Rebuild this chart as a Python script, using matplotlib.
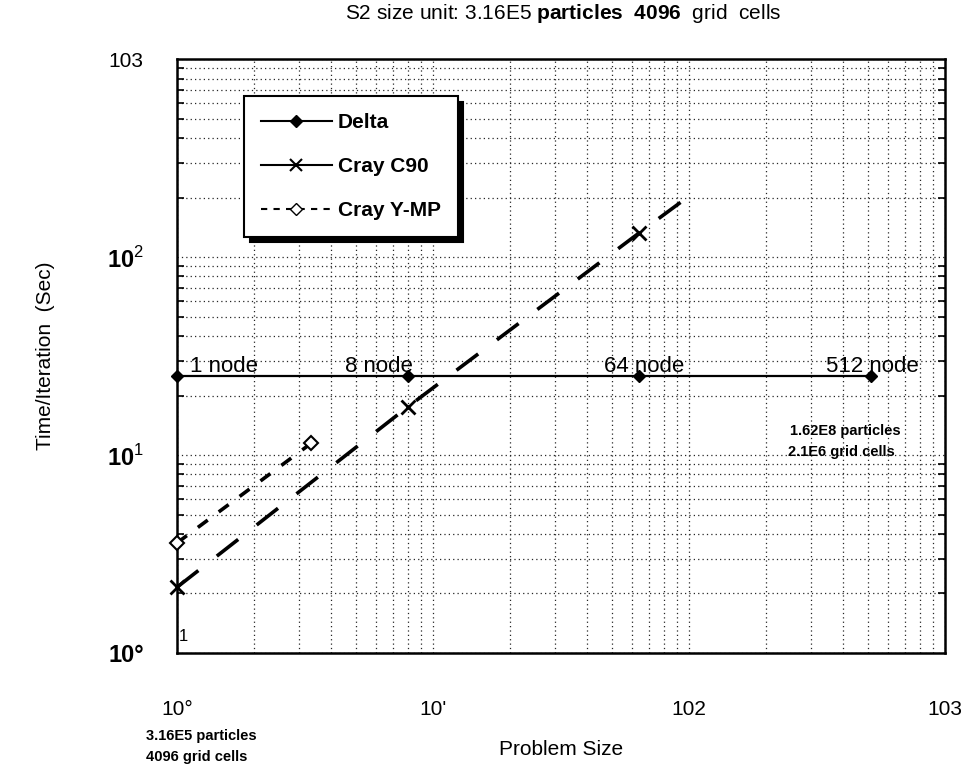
import matplotlib
matplotlib.use("Agg")
import matplotlib.pyplot as plt
from matplotlib.lines import Line2D

plt.rcParams['font.family'] = ['Liberation Sans', 'DejaVu Sans']
plt.rcParams['mathtext.fontset'] = 'custom'
plt.rcParams['mathtext.rm'] = 'Liberation Sans'
plt.rcParams['mathtext.bf'] = 'Liberation Sans:bold'

# problem size (units of 3.16E5 particles) vs time per iteration (sec)
delta_x = [1, 8, 64, 512]
delta_y = [25, 25, 25, 25]
c90_x = [1, 8, 64, 93]
c90_y = [2.15, 17.6, 133, 190]
ymp_x = [1, 3.35]
ymp_y = [3.6, 11.5]

node_labels = ['1 node', '8 node', '64 node', '512 node']
xtick_vals = [1, 10, 100, 1000]
xtick_labels = ['10°', "10'", '102', '103']
ytick_vals = [1, 10, 100, 1000]
ytick_labels = ['10°', '10$^{1}$', '10$^{2}$', '103']

fig = plt.figure(figsize=(9.63, 7.75), dpi=100)
ax = fig.add_axes([0.1838, 0.1574, 0.7975, 0.766])
ax.set_xscale('log')
ax.set_yscale('log')
ax.set_xlim(1, 1000)
ax.set_ylim(1, 1000)

# dotted grid like the scanned log paper
ax.grid(True, which='both', color='0.15', linestyle=(0, (1, 2.5)), linewidth=0.9)

ax.plot(delta_x, delta_y, color='k', lw=1.6, marker='D', ms=6, mfc='k', clip_on=False, zorder=5)
ax.plot(c90_x, c90_y, color='k', lw=2.6, dashes=(7.5, 6.5), marker='x', ms=10, mew=2,
        markevery=[0, 1, 2], clip_on=False, zorder=5)
ax.plot(ymp_x, ymp_y, color='k', lw=2.6, dashes=(3.4, 3.8), marker='D', ms=7, mfc='white',
        mew=1.5, clip_on=False, zorder=5)

# node labels along the Delta line
node_pos = [(0.017, 0.482), (0.219, 0.482), (0.556, 0.482), (0.845, 0.482)]
for lab, (px, py) in zip(node_labels, node_pos):
    ax.text(px, py, lab, transform=ax.transAxes, fontsize=16, va='center', ha='left', zorder=6)

ax.text(0.798, 0.374, '1.62E8 particles', transform=ax.transAxes, fontsize=10.5,
        fontweight='bold', va='center')
ax.text(0.795, 0.339, '2.1E6 grid cells', transform=ax.transAxes, fontsize=10.5,
        fontweight='bold', va='center')
ax.text(0.002, 0.027, '1', transform=ax.transAxes, fontsize=12, va='center')

ax.set_xticks(xtick_vals)
ax.set_xticklabels(xtick_labels, fontsize=15)
ax.set_yticks(ytick_vals)
ax.set_yticklabels(ytick_labels, fontsize=17, fontweight='bold')
ax.get_yticklabels()[-1].set_fontweight('normal')
ax.get_yticklabels()[-1].set_fontsize(15)
ax.tick_params(axis='x', which='both', length=0, pad=34)
ax.tick_params(axis='y', which='major', direction='in', length=0, pad=24, right=True)
ax.tick_params(axis='y', which='minor', direction='in', length=5, width=1.2, right=True)

for s in ax.spines.values():
    s.set_linewidth(1.8)

ax.set_xlabel('Problem Size', fontsize=15, labelpad=15)
ax.set_ylabel('Time/Iteration  (Sec)', fontsize=15, labelpad=37)

fig.text(0.152, 0.037, '3.16E5 particles\n4096 grid cells', fontsize=10.5,
         fontweight='bold', va='center', linespacing=1.6)

fig.text(0.585, 0.983, r'S2 size unit: 3.16E5 $\mathbf{particles}$  $\mathbf{4096}$  grid  cells',
         fontsize=15, ha='center', va='center')

handles = [
    Line2D([], [], color='k', lw=1.5, marker='D', ms=6, mfc='k'),
    Line2D([], [], color='k', lw=1.5, marker='x', ms=8, mew=1.5),
    Line2D([], [], color='k', lw=1.5, dashes=(3, 3), marker='D', ms=6, mfc='white'),
]
leg = ax.legend(handles, ['Delta', 'Cray C90', 'Cray Y-MP'], loc='upper left',
                bbox_to_anchor=(0.074, 0.955), fancybox=False, framealpha=1,
                edgecolor='k', prop={'size': 15, 'weight': 'bold'}, handlelength=3.4,
                labelspacing=1.2, borderpad=0.8, handletextpad=0.3,
                shadow={'color': 'k', 'alpha': 1, 'ox': 4, 'oy': -4})
leg.get_frame().set_linewidth(1.5)
leg.set_zorder(10)

fig.savefig('out.png', dpi=100)
